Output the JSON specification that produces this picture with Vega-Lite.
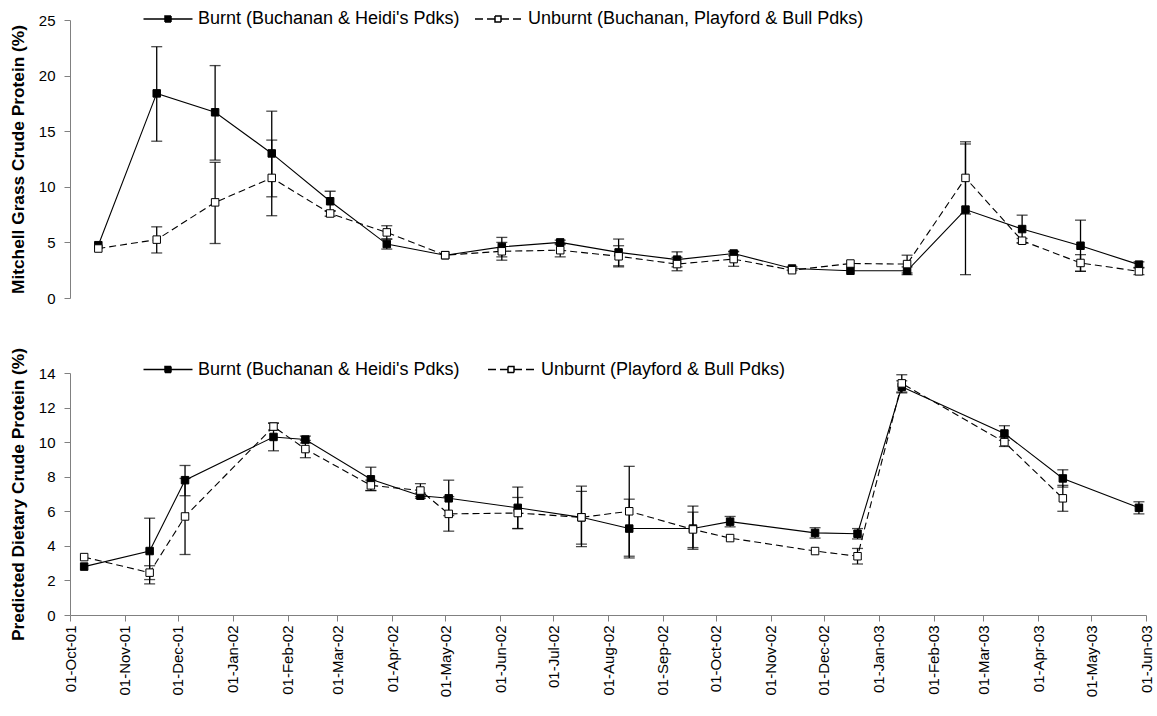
{
  "$schema": "https://vega.github.io/schema/vega-lite/v6.json",
  "background": "white",
  "padding": {"left": 9, "top": 10, "right": 5, "bottom": 5},
  "config": {
    "font": "Liberation Sans",
    "view": {"stroke": null},
    "axis": {
      "labelFont": "Liberation Sans", "labelFontSize": 15, "labelColor": "#000000",
      "titleFont": "Liberation Sans", "titleFontSize": 17.3, "titleFontWeight": "bold", "titleColor": "#000000",
      "domainColor": "#808080", "tickColor": "#808080", "grid": false, "tickSize": 6, "labelPadding": 9, "titlePadding": 11
    }
  },
  "datasets": {
    "mg": [
      {"d":"2001-10-17","s":"Burnt","v":4.75},
      {"d":"2001-11-19","s":"Burnt","v":18.4,"lo":14.1,"hi":22.6},
      {"d":"2001-12-22","s":"Burnt","v":16.7,"lo":12.4,"hi":20.9},
      {"d":"2002-01-23","s":"Burnt","v":13.0,"lo":9.1,"hi":16.8},
      {"d":"2002-02-25","s":"Burnt","v":8.7,"lo":7.8,"hi":9.6},
      {"d":"2002-03-29","s":"Burnt","v":4.85,"lo":4.4,"hi":5.3},
      {"d":"2002-05-01","s":"Burnt","v":3.85},
      {"d":"2002-06-02","s":"Burnt","v":4.6,"lo":3.7,"hi":5.45},
      {"d":"2002-07-05","s":"Burnt","v":5.0,"lo":4.8,"hi":5.2},
      {"d":"2002-08-07","s":"Burnt","v":4.1,"lo":2.9,"hi":5.3},
      {"d":"2002-09-09","s":"Burnt","v":3.45,"lo":2.8,"hi":4.15},
      {"d":"2002-10-11","s":"Burnt","v":4.0,"lo":3.8,"hi":4.2},
      {"d":"2002-11-13","s":"Burnt","v":2.65,"lo":2.5,"hi":2.8},
      {"d":"2002-12-16","s":"Burnt","v":2.45},
      {"d":"2003-01-17","s":"Burnt","v":2.45,"lo":2.1,"hi":2.8},
      {"d":"2003-02-19","s":"Burnt","v":7.95,"lo":2.1,"hi":13.85},
      {"d":"2003-03-23","s":"Burnt","v":6.2,"lo":4.95,"hi":7.45},
      {"d":"2003-04-25","s":"Burnt","v":4.7,"lo":2.4,"hi":7.0},
      {"d":"2003-05-28","s":"Burnt","v":3.0,"lo":2.75,"hi":3.25},
      {"d":"2001-10-17","s":"Unburnt","v":4.45},
      {"d":"2001-11-19","s":"Unburnt","v":5.25,"lo":4.05,"hi":6.4},
      {"d":"2001-12-22","s":"Unburnt","v":8.6,"lo":4.9,"hi":12.2},
      {"d":"2002-01-23","s":"Unburnt","v":10.8,"lo":7.4,"hi":14.2},
      {"d":"2002-02-25","s":"Unburnt","v":7.6,"lo":7.35,"hi":7.85},
      {"d":"2002-03-29","s":"Unburnt","v":5.9,"lo":5.3,"hi":6.5},
      {"d":"2002-05-01","s":"Unburnt","v":3.85},
      {"d":"2002-06-02","s":"Unburnt","v":4.2,"lo":3.4,"hi":5.0},
      {"d":"2002-07-05","s":"Unburnt","v":4.3,"lo":3.7,"hi":4.9},
      {"d":"2002-08-07","s":"Unburnt","v":3.75,"lo":2.8,"hi":4.7},
      {"d":"2002-09-09","s":"Unburnt","v":3.05,"lo":2.45,"hi":3.65},
      {"d":"2002-10-11","s":"Unburnt","v":3.5,"lo":2.85,"hi":4.15},
      {"d":"2002-11-13","s":"Unburnt","v":2.5},
      {"d":"2002-12-16","s":"Unburnt","v":3.1},
      {"d":"2003-01-17","s":"Unburnt","v":3.05,"lo":2.25,"hi":3.85},
      {"d":"2003-02-19","s":"Unburnt","v":10.8,"lo":7.55,"hi":14.05},
      {"d":"2003-03-23","s":"Unburnt","v":5.15,"lo":4.95,"hi":5.35},
      {"d":"2003-04-25","s":"Unburnt","v":3.15,"lo":2.4,"hi":3.9},
      {"d":"2003-05-28","s":"Unburnt","v":2.4,"lo":2.1,"hi":2.7}
    ],
    "dcp": [
      {"d":"2001-10-09","s":"Burnt","v":2.8},
      {"d":"2001-11-15","s":"Burnt","v":3.7,"lo":1.8,"hi":5.6},
      {"d":"2001-12-05","s":"Burnt","v":7.8,"lo":6.9,"hi":8.65},
      {"d":"2002-01-24","s":"Burnt","v":10.3,"lo":9.5,"hi":11.1},
      {"d":"2002-02-11","s":"Burnt","v":10.15,"lo":9.95,"hi":10.35},
      {"d":"2002-03-20","s":"Burnt","v":7.85,"lo":7.2,"hi":8.55},
      {"d":"2002-04-17","s":"Burnt","v":6.9,"lo":6.75,"hi":7.05},
      {"d":"2002-05-03","s":"Burnt","v":6.75,"lo":5.75,"hi":7.8},
      {"d":"2002-06-11","s":"Burnt","v":6.2,"lo":5.0,"hi":7.4},
      {"d":"2002-07-17","s":"Burnt","v":5.65,"lo":3.95,"hi":7.45},
      {"d":"2002-08-13","s":"Burnt","v":5.0,"lo":3.3,"hi":6.7},
      {"d":"2002-09-18","s":"Burnt","v":5.0,"lo":3.8,"hi":6.3},
      {"d":"2002-10-09","s":"Burnt","v":5.4,"lo":5.1,"hi":5.7},
      {"d":"2002-11-26","s":"Burnt","v":4.75,"lo":4.45,"hi":5.05},
      {"d":"2002-12-20","s":"Burnt","v":4.7,"lo":4.4,"hi":5.0},
      {"d":"2003-01-14","s":"Burnt","v":13.2,"lo":12.85,"hi":13.55},
      {"d":"2003-03-13","s":"Burnt","v":10.5,"lo":10.1,"hi":10.95},
      {"d":"2003-04-15","s":"Burnt","v":7.9,"lo":7.4,"hi":8.4},
      {"d":"2003-05-28","s":"Burnt","v":6.2,"lo":5.85,"hi":6.55},
      {"d":"2001-10-09","s":"Unburnt","v":3.35},
      {"d":"2001-11-15","s":"Unburnt","v":2.45,"lo":2.05,"hi":2.85},
      {"d":"2001-12-05","s":"Unburnt","v":5.7,"lo":3.5,"hi":7.9},
      {"d":"2002-01-24","s":"Unburnt","v":10.9,"lo":10.7,"hi":11.1},
      {"d":"2002-02-11","s":"Unburnt","v":9.6,"lo":9.1,"hi":10.1},
      {"d":"2002-03-20","s":"Unburnt","v":7.5,"lo":7.2,"hi":7.8},
      {"d":"2002-04-17","s":"Unburnt","v":7.2,"lo":6.85,"hi":7.6},
      {"d":"2002-05-03","s":"Unburnt","v":5.85,"lo":4.85,"hi":6.85},
      {"d":"2002-06-11","s":"Unburnt","v":5.9,"lo":5.0,"hi":6.8},
      {"d":"2002-07-17","s":"Unburnt","v":5.65,"lo":4.1,"hi":7.15},
      {"d":"2002-08-13","s":"Unburnt","v":6.0,"lo":3.4,"hi":8.6},
      {"d":"2002-09-18","s":"Unburnt","v":4.95,"lo":3.9,"hi":5.95},
      {"d":"2002-10-09","s":"Unburnt","v":4.45},
      {"d":"2002-11-26","s":"Unburnt","v":3.7},
      {"d":"2002-12-20","s":"Unburnt","v":3.4,"lo":2.95,"hi":3.85},
      {"d":"2003-01-14","s":"Unburnt","v":13.4,"lo":12.9,"hi":13.9},
      {"d":"2003-03-13","s":"Unburnt","v":10.0,"lo":9.75,"hi":10.3},
      {"d":"2003-04-15","s":"Unburnt","v":6.75,"lo":6.0,"hi":7.5}
    ]
  },
  "spacing": 75,
  "bounds": "flush",
  "resolve": {"scale": {"y": "independent", "fill": "independent", "strokeDash": "independent"}, "legend": {"fill": "independent", "strokeDash": "independent"}},
  "vconcat": [
    {
      "width": 1076, "height": 278,
      "data": {"name": "mg"},
      "encoding": {
        "x": {"field": "d", "type": "temporal", "scale": {"type": "utc", "domain": [{"year": 2001, "month": "oct", "date": 1, "utc": true}, {"year": 2003, "month": "jun", "date": 1, "utc": true}]}, "axis": null}
      },
      "layer": [
        {
          "transform": [{"filter": "isValid(datum.lo)"}],
          "mark": {"type": "rule", "color": "#000000", "strokeWidth": 1.3},
          "encoding": {"y": {"field": "lo", "type": "quantitative", "scale": {"domain": [0, 25], "nice": false}, "axis": {"title": "Mitchell Grass Crude Protein (%)", "values": [0, 5, 10, 15, 20, 25]}}, "y2": {"field": "hi"}}
        },
        {
          "transform": [{"filter": "isValid(datum.lo)"}],
          "mark": {"type": "tick", "orient": "horizontal", "size": 11, "thickness": 1.3, "color": "#000000"},
          "encoding": {"y": {"field": "lo", "type": "quantitative", "scale": {"domain": [0, 25], "nice": false}, "axis": {"title": "Mitchell Grass Crude Protein (%)", "values": [0, 5, 10, 15, 20, 25]}}}
        },
        {
          "transform": [{"filter": "isValid(datum.lo)"}],
          "mark": {"type": "tick", "orient": "horizontal", "size": 11, "thickness": 1.3, "color": "#000000"},
          "encoding": {"y": {"field": "hi", "type": "quantitative", "scale": {"domain": [0, 25], "nice": false}, "axis": {"title": "Mitchell Grass Crude Protein (%)", "values": [0, 5, 10, 15, 20, 25]}}}
        },
        {
          "transform": [{"filter": "datum.s == 'Burnt'"}],
          "mark": {"type": "line", "color": "#000000", "strokeWidth": 1.1},
          "encoding": {"y": {"field": "v", "type": "quantitative", "scale": {"domain": [0, 25], "nice": false}, "axis": {"title": "Mitchell Grass Crude Protein (%)", "values": [0, 5, 10, 15, 20, 25]}}}
        },
        {
          "transform": [{"filter": "datum.s == 'Unburnt'"}],
          "mark": {"type": "line", "color": "#000000", "strokeWidth": 1.1, "strokeDash": [7, 4]},
          "encoding": {"y": {"field": "v", "type": "quantitative", "scale": {"domain": [0, 25], "nice": false}, "axis": {"title": "Mitchell Grass Crude Protein (%)", "values": [0, 5, 10, 15, 20, 25]}}}
        },
        {
          "transform": [{"filter": "datum.s == 'Burnt'"}],
          "mark": {"type": "point", "shape": "square", "size": 56, "filled": true, "fill": "#000000", "stroke": "#000000", "strokeWidth": 1, "opacity": 1},
          "encoding": {"y": {"field": "v", "type": "quantitative", "scale": {"domain": [0, 25], "nice": false}, "axis": {"title": "Mitchell Grass Crude Protein (%)", "values": [0, 5, 10, 15, 20, 25]}}}
        },
        {
          "transform": [{"filter": "datum.s == 'Unburnt'"}],
          "mark": {"type": "point", "shape": "square", "size": 56, "filled": true, "fill": "#ffffff", "stroke": "#000000", "strokeWidth": 1, "opacity": 1},
          "encoding": {"y": {"field": "v", "type": "quantitative", "scale": {"domain": [0, 25], "nice": false}, "axis": {"title": "Mitchell Grass Crude Protein (%)", "values": [0, 5, 10, 15, 20, 25]}}}
        },
        {
          "mark": {"type": "point", "shape": "square", "size": 0, "filled": true, "stroke": "#000000", "strokeWidth": 1.1, "opacity": 1},
          "encoding": {
            "y": {"field": "v", "type": "quantitative", "scale": {"domain": [0, 25], "nice": false}, "axis": {"title": "Mitchell Grass Crude Protein (%)", "values": [0, 5, 10, 15, 20, 25]}},
            "fill": {"field": "s", "type": "nominal", "scale": {"domain": ["Burnt", "Unburnt"], "range": ["#000000", "#ffffff"]},
              "legend": {
                "orient": "none", "legendX": 89, "legendY": -10, "direction": "horizontal", "title": null, "padding": 0,
                "symbolSize": 100, "symbolType": "M-0.6,0L-4.9,0M0.6,0L4.9,0M-0.6,-0.6L0.6,-0.6L0.6,0.6L-0.6,0.6ZM-0.6,-0.6L0.6,-0.6M0.6,-0.6L0.6,0.6M0.6,0.6L-0.6,0.6M-0.6,0.6L-0.6,-0.6",
                "symbolFillColor": "#ffffff", "symbolStrokeColor": "#000000",
                "labelOffset": 21, "columnPadding": 10, "labelFontSize": 18, "labelFont": "Liberation Sans", "labelColor": "#000000", "labelLimit": 0,
                "labelExpr": "datum.value == 'Burnt' ? \"Burnt (Buchanan & Heidi's Pdks)\" : 'Unburnt (Buchanan, Playford & Bull Pdks)'"
              }
            },
            "strokeDash": {"field": "s", "type": "nominal", "scale": {"domain": ["Burnt", "Unburnt"], "range": [[1, 0], [8, 4]]},
              "legend": {
                "orient": "none", "legendX": 89, "legendY": -10, "direction": "horizontal", "title": null, "padding": 0,
                "symbolSize": 100, "symbolType": "M-0.6,0L-4.9,0M0.6,0L4.9,0M-0.6,-0.6L0.6,-0.6L0.6,0.6L-0.6,0.6ZM-0.6,-0.6L0.6,-0.6M0.6,-0.6L0.6,0.6M0.6,0.6L-0.6,0.6M-0.6,0.6L-0.6,-0.6",
                "symbolFillColor": "#ffffff", "symbolStrokeColor": "#000000",
                "labelOffset": 21, "columnPadding": 10, "labelFontSize": 18, "labelFont": "Liberation Sans", "labelColor": "#000000", "labelLimit": 0,
                "labelExpr": "datum.value == 'Burnt' ? \"Burnt (Buchanan & Heidi's Pdks)\" : 'Unburnt (Buchanan, Playford & Bull Pdks)'"
              }
            }
          }
        }
      ]
    },
    {
      "width": 1076, "height": 242,
      "data": {"name": "dcp"},
      "encoding": {
        "x": {"field": "d", "type": "temporal", "scale": {"type": "utc", "domain": [{"year": 2001, "month": "oct", "date": 1, "utc": true}, {"year": 2003, "month": "jun", "date": 1, "utc": true}]},
          "axis": {"title": null, "labelExpr": "utcFormat(datum.value, '%d-%b-%y')", "labelAngle": 270, "tickSize": 6, "labelPadding": 4,
            "values": [
              {"year": 2001, "month": "oct", "date": 1, "utc": true}, {"year": 2001, "month": "nov", "date": 1, "utc": true}, {"year": 2001, "month": "dec", "date": 1, "utc": true},
              {"year": 2002, "month": "jan", "date": 1, "utc": true}, {"year": 2002, "month": "feb", "date": 1, "utc": true}, {"year": 2002, "month": "mar", "date": 1, "utc": true},
              {"year": 2002, "month": "apr", "date": 1, "utc": true}, {"year": 2002, "month": "may", "date": 1, "utc": true}, {"year": 2002, "month": "jun", "date": 1, "utc": true},
              {"year": 2002, "month": "jul", "date": 1, "utc": true}, {"year": 2002, "month": "aug", "date": 1, "utc": true}, {"year": 2002, "month": "sep", "date": 1, "utc": true},
              {"year": 2002, "month": "oct", "date": 1, "utc": true}, {"year": 2002, "month": "nov", "date": 1, "utc": true}, {"year": 2002, "month": "dec", "date": 1, "utc": true},
              {"year": 2003, "month": "jan", "date": 1, "utc": true}, {"year": 2003, "month": "feb", "date": 1, "utc": true}, {"year": 2003, "month": "mar", "date": 1, "utc": true},
              {"year": 2003, "month": "apr", "date": 1, "utc": true}, {"year": 2003, "month": "may", "date": 1, "utc": true}, {"year": 2003, "month": "jun", "date": 1, "utc": true}
            ]}}
      },
      "layer": [
        {
          "transform": [{"filter": "isValid(datum.lo)"}],
          "mark": {"type": "rule", "color": "#000000", "strokeWidth": 1.3},
          "encoding": {"y": {"field": "lo", "type": "quantitative", "scale": {"domain": [0, 14], "nice": false}, "axis": {"title": "Predicted Dietary Crude Protein (%)", "values": [0, 2, 4, 6, 8, 10, 12, 14]}}, "y2": {"field": "hi"}}
        },
        {
          "transform": [{"filter": "isValid(datum.lo)"}],
          "mark": {"type": "tick", "orient": "horizontal", "size": 11, "thickness": 1.3, "color": "#000000"},
          "encoding": {"y": {"field": "lo", "type": "quantitative", "scale": {"domain": [0, 14], "nice": false}, "axis": {"title": "Predicted Dietary Crude Protein (%)", "values": [0, 2, 4, 6, 8, 10, 12, 14]}}}
        },
        {
          "transform": [{"filter": "isValid(datum.lo)"}],
          "mark": {"type": "tick", "orient": "horizontal", "size": 11, "thickness": 1.3, "color": "#000000"},
          "encoding": {"y": {"field": "hi", "type": "quantitative", "scale": {"domain": [0, 14], "nice": false}, "axis": {"title": "Predicted Dietary Crude Protein (%)", "values": [0, 2, 4, 6, 8, 10, 12, 14]}}}
        },
        {
          "transform": [{"filter": "datum.s == 'Burnt'"}],
          "mark": {"type": "line", "color": "#000000", "strokeWidth": 1.1},
          "encoding": {"y": {"field": "v", "type": "quantitative", "scale": {"domain": [0, 14], "nice": false}, "axis": {"title": "Predicted Dietary Crude Protein (%)", "values": [0, 2, 4, 6, 8, 10, 12, 14]}}}
        },
        {
          "transform": [{"filter": "datum.s == 'Unburnt'"}],
          "mark": {"type": "line", "color": "#000000", "strokeWidth": 1.1, "strokeDash": [7, 4]},
          "encoding": {"y": {"field": "v", "type": "quantitative", "scale": {"domain": [0, 14], "nice": false}, "axis": {"title": "Predicted Dietary Crude Protein (%)", "values": [0, 2, 4, 6, 8, 10, 12, 14]}}}
        },
        {
          "transform": [{"filter": "datum.s == 'Burnt'"}],
          "mark": {"type": "point", "shape": "square", "size": 56, "filled": true, "fill": "#000000", "stroke": "#000000", "strokeWidth": 1, "opacity": 1},
          "encoding": {"y": {"field": "v", "type": "quantitative", "scale": {"domain": [0, 14], "nice": false}, "axis": {"title": "Predicted Dietary Crude Protein (%)", "values": [0, 2, 4, 6, 8, 10, 12, 14]}}}
        },
        {
          "transform": [{"filter": "datum.s == 'Unburnt'"}],
          "mark": {"type": "point", "shape": "square", "size": 56, "filled": true, "fill": "#ffffff", "stroke": "#000000", "strokeWidth": 1, "opacity": 1},
          "encoding": {"y": {"field": "v", "type": "quantitative", "scale": {"domain": [0, 14], "nice": false}, "axis": {"title": "Predicted Dietary Crude Protein (%)", "values": [0, 2, 4, 6, 8, 10, 12, 14]}}}
        },
        {
          "mark": {"type": "point", "shape": "square", "size": 0, "filled": true, "stroke": "#000000", "strokeWidth": 1.1, "opacity": 1},
          "encoding": {
            "y": {"field": "v", "type": "quantitative", "scale": {"domain": [0, 14], "nice": false}, "axis": {"title": "Predicted Dietary Crude Protein (%)", "values": [0, 2, 4, 6, 8, 10, 12, 14]}},
            "fill": {"field": "s", "type": "nominal", "scale": {"domain": ["Burnt", "Unburnt"], "range": ["#000000", "#ffffff"]},
              "legend": {
                "orient": "none", "legendX": 89, "legendY": -12.5, "direction": "horizontal", "title": null, "padding": 0,
                "symbolSize": 100, "symbolType": "M-0.6,0L-4.9,0M0.6,0L4.9,0M-0.6,-0.6L0.6,-0.6L0.6,0.6L-0.6,0.6ZM-0.6,-0.6L0.6,-0.6M0.6,-0.6L0.6,0.6M0.6,0.6L-0.6,0.6M-0.6,0.6L-0.6,-0.6",
                "symbolFillColor": "#ffffff", "symbolStrokeColor": "#000000",
                "labelOffset": 21, "columnPadding": 23, "labelFontSize": 18, "labelFont": "Liberation Sans", "labelColor": "#000000", "labelLimit": 0,
                "labelExpr": "datum.value == 'Burnt' ? \"Burnt (Buchanan & Heidi's Pdks)\" : 'Unburnt (Playford & Bull Pdks)'"
              }
            },
            "strokeDash": {"field": "s", "type": "nominal", "scale": {"domain": ["Burnt", "Unburnt"], "range": [[1, 0], [8, 4]]},
              "legend": {
                "orient": "none", "legendX": 89, "legendY": -12.5, "direction": "horizontal", "title": null, "padding": 0,
                "symbolSize": 100, "symbolType": "M-0.6,0L-4.9,0M0.6,0L4.9,0M-0.6,-0.6L0.6,-0.6L0.6,0.6L-0.6,0.6ZM-0.6,-0.6L0.6,-0.6M0.6,-0.6L0.6,0.6M0.6,0.6L-0.6,0.6M-0.6,0.6L-0.6,-0.6",
                "symbolFillColor": "#ffffff", "symbolStrokeColor": "#000000",
                "labelOffset": 21, "columnPadding": 23, "labelFontSize": 18, "labelFont": "Liberation Sans", "labelColor": "#000000", "labelLimit": 0,
                "labelExpr": "datum.value == 'Burnt' ? \"Burnt (Buchanan & Heidi's Pdks)\" : 'Unburnt (Playford & Bull Pdks)'"
              }
            }
          }
        }
      ]
    }
  ]
}
